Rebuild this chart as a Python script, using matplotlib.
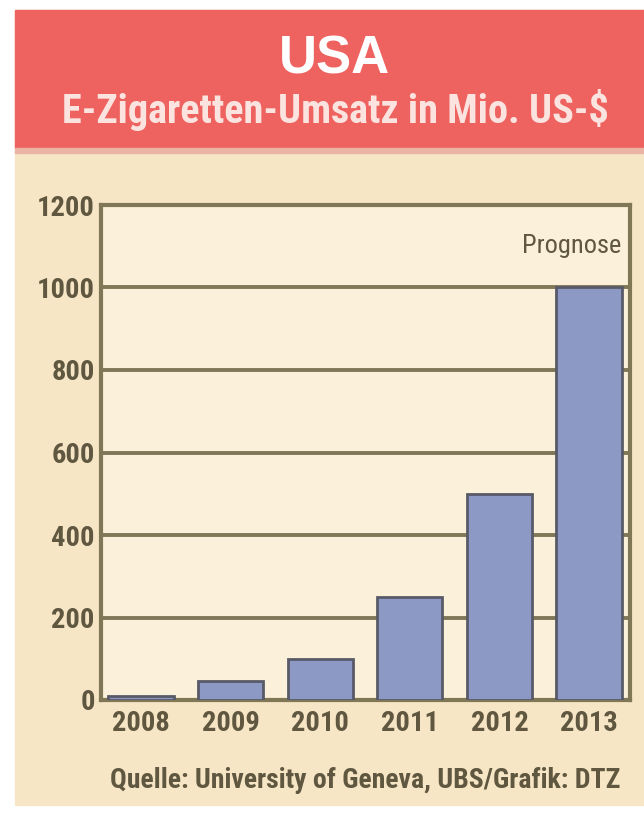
import numpy as np
import matplotlib.pyplot as plt
from matplotlib.patches import Rectangle

years = ['2008', '2009', '2010', '2011', '2012', '2013']
umsatz = [10, 45, 100, 250, 500, 1000]
y_ticks = [0, 200, 400, 600, 800, 1000, 1200]

narrow = ['Roboto Condensed', 'Liberation Sans Narrow', 'Liberation Sans', 'DejaVu Sans']
red = '#ee6360'
cream = '#f7e6c6'
plot_bg = '#fbf0d9'
line_col = '#807757'
text_col = '#5f573f'
bar_col = '#8d99c5'
bar_edge = '#585a68'

fig = plt.figure(figsize=(6.44, 8.14), dpi=100)
fig.patch.set_facecolor('white')

# card background and red header band
fig.patches.append(Rectangle((15 / 644, 1 - 805 / 814), 629 / 644, 795 / 814,
                             transform=fig.transFigure, color=cream, zorder=-2))
fig.patches.append(Rectangle((15 / 644, 1 - 148 / 814), 629 / 644, 138 / 814,
                             transform=fig.transFigure, color=red, zorder=-1))
fig.patches.append(Rectangle((15 / 644, 1 - 153 / 814), 629 / 644, 5 / 814,
                             transform=fig.transFigure, color='#eab3a4', zorder=-1))

fig.text(334 / 644, 1 - 60 / 814, 'USA', ha='center', va='center', color='white',
         fontsize=38, fontweight='bold', family=['Liberation Sans', 'DejaVu Sans'])
fig.text(335 / 644, 1 - 110 / 814, 'E-Zigaretten-Umsatz in Mio. US-$', ha='center',
         va='center', color='#fbe3df', fontsize=29, fontweight='bold', family=narrow)

ax = fig.add_axes([101 / 644, 1 - 700 / 814, 529 / 644, 495 / 814])
ax.set_facecolor(plot_bg)

x = np.arange(len(years))
ax.bar(x, umsatz, width=0.73, color=bar_col, edgecolor=bar_edge, linewidth=2, zorder=3)

ax.set_xlim(-0.447, 5.458)
ax.set_ylim(0, 1200)
ax.set_yticks(y_ticks)
ax.set_yticklabels([str(v) for v in y_ticks], family=narrow, fontsize=20.5,
                   fontweight='bold', color=text_col)
ax.set_xticks(x)
ax.set_xticklabels(years, family=narrow, fontsize=20.5, fontweight='bold', color=text_col)
ax.tick_params(axis='y', length=0, pad=4.5)
ax.tick_params(axis='x', length=0, pad=7)

for v in y_ticks[1:-1]:
    ax.axhline(v, color=line_col, linewidth=2.8, zorder=2)

for s in ax.spines.values():
    s.set_color(line_col)
    s.set_linewidth(3)

ax.text(5.36, 1100, 'Prognose', ha='right', va='center', family=narrow,
        fontsize=19, color=text_col)

fig.text(365 / 644, 1 - 780 / 814, 'Quelle: University of Geneva, UBS/Grafik: DTZ',
         ha='center', va='center', family=narrow, fontsize=20, fontweight='bold',
         color=text_col)

fig.savefig('out.png', dpi=100, facecolor=fig.get_facecolor())
